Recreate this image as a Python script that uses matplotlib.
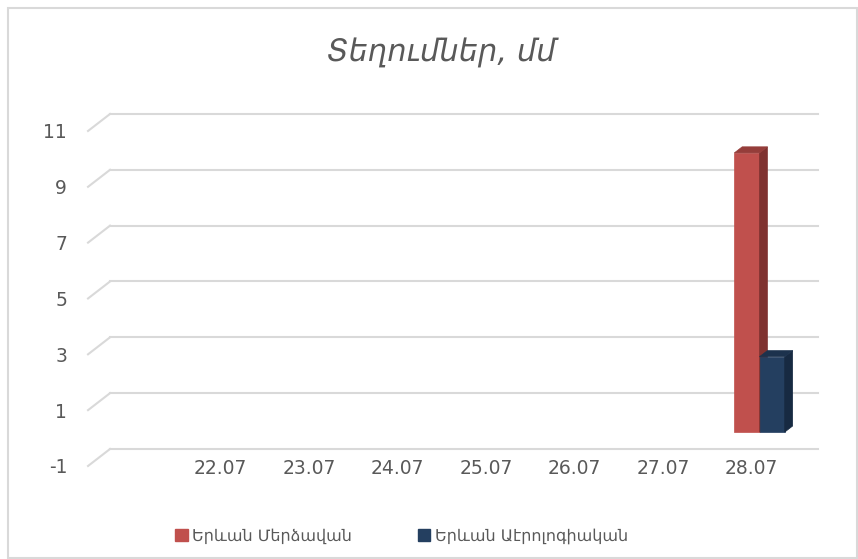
import matplotlib.pyplot as plt
from matplotlib.patches import Polygon, Rectangle, Patch

categories = ['', '22.07', '23.07', '24.07', '25.07', '26.07', '27.07', '28.07']
merdzavan = [0, 0, 0, 0, 0, 0, 0, 10]
aeroport = [0, 0, 0, 0, 0, 0, 0, 2.7]
series_names = ['Երևան Մերձավան', 'Երևան Աէրոլոգիական']
yticks = [-1, 1, 3, 5, 7, 9, 11]

red = ('#C0504D', '#7F3230', '#953D3A')
blue = ('#243F60', '#172A42', '#1C324D')
text_color = '#595959'
grid_color = '#D9D9D9'

plt.rcParams['font.family'] = 'DejaVu Sans'
plt.rcParams['axes.unicode_minus'] = False
fig = plt.figure(figsize=(8.58, 5.59), dpi=100)
ax = fig.add_axes([0.1026, 0.1664, 0.8252, 0.5993])
ax.set_xlim(-0.5, len(categories) - 0.5)
ax.set_ylim(-1, 11)
for s in ax.spines.values():
    s.set_visible(False)

# depth of the 3d box in data units (22 px right, 17 px up)
p0 = ax.transData.transform((0, 0))
p1 = ax.transData.transform((1, 1))
dx = 22 / (p1[0] - p0[0])
dy = 17 / (p1[1] - p0[1])

xmin, xmax = ax.get_xlim()
for v in yticks:
    ax.plot([xmin, xmin + dx], [v, v + dy], color=grid_color, lw=1.5,
            clip_on=False, zorder=1)
    ax.plot([xmin + dx, xmax + dx], [v + dy, v + dy], color=grid_color, lw=1.5,
            clip_on=False, zorder=1)


def bar3d(x0, w, h, colors):
    f0, f1 = 0.35, 0.71
    bx = x0 + f0 * dx
    by = f0 * dy
    ddx = (f1 - f0) * dx
    ddy = (f1 - f0) * dy
    front = [(bx, by), (bx + w, by), (bx + w, by + h), (bx, by + h)]
    side = [(bx + w, by), (bx + w + ddx, by + ddy), (bx + w + ddx, by + h + ddy), (bx + w, by + h)]
    top = [(bx, by + h), (bx + w, by + h), (bx + w + ddx, by + h + ddy), (bx + ddx, by + h + ddy)]
    for pts, c in zip([front, side, top], colors):
        ax.add_patch(Polygon(pts, closed=True, facecolor=c, edgecolor=c, lw=0.5,
                             clip_on=False, zorder=3))


w = 0.285
for i in range(len(categories)):
    if merdzavan[i] != 0:
        bar3d(i - w, w, merdzavan[i], red)
    if aeroport[i] != 0:
        bar3d(i, w, aeroport[i], blue)

ax.set_yticks(yticks)
ax.set_xticks(range(len(categories)), categories)
ax.tick_params(axis='y', length=0, pad=15, labelsize=13.5, labelcolor=text_color)
ax.tick_params(axis='x', length=0, pad=-5, labelsize=13.5, labelcolor=text_color)

fig.text(0.514, 1 - 53 / 559, 'Տեղումներ, մմ', fontsize=22, style='italic',
         ha='center', va='center', color=text_color)

handles = [Patch(color=red[0], label=series_names[0]),
           Patch(color=blue[0], label=series_names[1])]
fig.legend(handles=handles, loc='center', bbox_to_anchor=(0.468, 0.041), ncol=2,
           frameon=False, fontsize=11.5, columnspacing=4.1, handlelength=0.8,
           handleheight=0.8, handletextpad=0.3, labelcolor=text_color)

fig.add_artist(Rectangle((8 / 858, 0.002), 849 / 858, 0.9837, transform=fig.transFigure,
                         fill=False, edgecolor=grid_color, lw=1.5))

fig.savefig('out.png', dpi=100)
